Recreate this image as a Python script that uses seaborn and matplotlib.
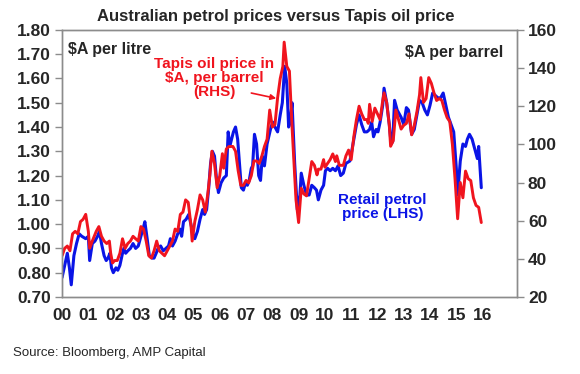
import numpy as np
import pandas as pd
import matplotlib
matplotlib.use("Agg")
import matplotlib.pyplot as plt
import seaborn as sns

# Retail petrol price, $A per litre (LHS)
petrol_t = [2000.00, 2000.12, 2000.20, 2000.28, 2000.35, 2000.45, 2000.55, 2000.65, 2000.75, 2000.90,
            2001.00, 2001.05, 2001.15, 2001.25, 2001.35, 2001.42, 2001.50, 2001.60, 2001.68, 2001.75,
            2001.82, 2001.88, 2001.95, 2002.05, 2002.12, 2002.20, 2002.30, 2002.35, 2002.42, 2002.50,
            2002.60, 2002.70, 2002.80, 2002.90, 2003.00, 2003.08, 2003.15, 2003.25, 2003.32, 2003.42,
            2003.50, 2003.58, 2003.65, 2003.75, 2003.85, 2003.95, 2004.05, 2004.12, 2004.20, 2004.30,
            2004.40, 2004.48, 2004.55, 2004.62, 2004.72, 2004.82, 2004.90, 2004.98, 2005.05, 2005.15,
            2005.25, 2005.35, 2005.42, 2005.50, 2005.58, 2005.65, 2005.72, 2005.80, 2005.88, 2005.95,
            2006.05, 2006.15, 2006.25, 2006.32, 2006.38, 2006.45, 2006.52, 2006.60, 2006.68, 2006.75,
            2006.82, 2006.90, 2006.98, 2007.05, 2007.12, 2007.20, 2007.25, 2007.32, 2007.40, 2007.48,
            2007.55, 2007.62, 2007.70, 2007.80, 2007.95, 2008.02, 2008.10, 2008.20, 2008.30, 2008.38,
            2008.47, 2008.55, 2008.62, 2008.68, 2008.75, 2008.85, 2008.95, 2009.05, 2009.10, 2009.20,
            2009.30, 2009.40, 2009.50, 2009.60, 2009.68, 2009.75, 2009.85, 2009.95, 2010.02, 2010.10,
            2010.20, 2010.30, 2010.40, 2010.50, 2010.60, 2010.70, 2010.80, 2010.95, 2011.02, 2011.10,
            2011.20, 2011.30, 2011.40, 2011.50, 2011.60, 2011.70, 2011.78, 2011.85, 2011.95, 2012.02,
            2012.10, 2012.20, 2012.25, 2012.35, 2012.45, 2012.52, 2012.58, 2012.65, 2012.75, 2012.90,
            2013.00, 2013.10, 2013.18, 2013.30, 2013.40, 2013.50, 2013.60, 2013.70, 2013.80, 2013.90,
            2014.00, 2014.10, 2014.20, 2014.30, 2014.40, 2014.50, 2014.60, 2014.70, 2014.80, 2014.90,
            2015.00, 2015.05, 2015.15, 2015.25, 2015.35, 2015.42, 2015.50, 2015.60, 2015.70, 2015.80,
            2015.85, 2015.95]
petrol = [0.78, 0.84, 0.88, 0.82, 0.75, 0.87, 0.92, 0.96, 0.95, 0.94,
          0.95, 0.85, 0.92, 0.93, 0.95, 0.97, 0.92, 0.87, 0.85, 0.86,
          0.88, 0.82, 0.80, 0.82, 0.81, 0.83, 0.88, 0.90, 0.88, 0.89,
          0.90, 0.92, 0.90, 0.91, 0.95, 0.98, 1.01, 0.93, 0.87, 0.86,
          0.86, 0.88, 0.90, 0.91, 0.89, 0.90, 0.91, 0.94, 0.91, 0.93,
          0.96, 0.98, 0.95, 1.01, 1.02, 1.04, 1.00, 0.96, 0.94, 0.97,
          1.02, 1.06, 1.04, 1.06, 1.15, 1.25, 1.30, 1.28, 1.18, 1.13,
          1.17, 1.19, 1.20, 1.38, 1.32, 1.35, 1.38, 1.40, 1.35, 1.25,
          1.15, 1.14, 1.17, 1.16, 1.18, 1.23, 1.24, 1.37, 1.33, 1.20,
          1.18, 1.28, 1.24, 1.33, 1.40, 1.42, 1.40, 1.38, 1.45, 1.50,
          1.65, 1.58, 1.40, 1.42, 1.50, 1.25, 1.06, 1.12, 1.21, 1.16,
          1.12, 1.12, 1.16, 1.15, 1.14, 1.10, 1.14, 1.16, 1.22, 1.23,
          1.22, 1.23, 1.22, 1.24, 1.20, 1.21, 1.25, 1.26, 1.30, 1.35,
          1.41, 1.45, 1.41, 1.38, 1.38, 1.39, 1.42, 1.36, 1.39, 1.38,
          1.42, 1.49, 1.56, 1.50, 1.41, 1.33, 1.34, 1.51, 1.47, 1.44,
          1.41, 1.48, 1.47, 1.37, 1.39, 1.45, 1.51, 1.50, 1.47, 1.45,
          1.49, 1.54, 1.53, 1.52, 1.52, 1.54, 1.49, 1.44, 1.41, 1.38,
          1.23, 1.12, 1.26, 1.33, 1.32, 1.35, 1.37, 1.35, 1.31, 1.27,
          1.32, 1.15]

# Tapis oil price, $A per barrel (RHS)
tapis_t = [2000.00, 2000.10, 2000.20, 2000.30, 2000.40, 2000.50, 2000.60, 2000.70, 2000.80, 2000.90,
           2001.00, 2001.05, 2001.15, 2001.30, 2001.40, 2001.50, 2001.60, 2001.70, 2001.80, 2001.85,
           2001.92, 2002.00, 2002.10, 2002.20, 2002.30, 2002.40, 2002.50, 2002.60, 2002.70, 2002.80,
           2002.90, 2003.00, 2003.10, 2003.20, 2003.30, 2003.40, 2003.50, 2003.60, 2003.70, 2003.80,
           2003.90, 2004.00, 2004.10, 2004.20, 2004.30, 2004.40, 2004.50, 2004.60, 2004.70, 2004.80,
           2004.90, 2004.95, 2005.05, 2005.15, 2005.25, 2005.35, 2005.45, 2005.55, 2005.62, 2005.70,
           2005.80, 2005.90, 2006.00, 2006.10, 2006.15, 2006.25, 2006.35, 2006.50, 2006.60, 2006.70,
           2006.80, 2006.90, 2007.00, 2007.10, 2007.20, 2007.30, 2007.40, 2007.50, 2007.60, 2007.70,
           2007.80, 2007.90, 2008.00, 2008.10, 2008.20, 2008.30, 2008.40, 2008.45, 2008.55, 2008.65,
           2008.75, 2008.90, 2009.00, 2009.10, 2009.20, 2009.30, 2009.40, 2009.50, 2009.60, 2009.70,
           2009.75, 2009.85, 2009.95, 2010.00, 2010.10, 2010.20, 2010.30, 2010.40, 2010.45, 2010.55,
           2010.70, 2010.80, 2010.90, 2011.00, 2011.10, 2011.20, 2011.30, 2011.40, 2011.50, 2011.60,
           2011.65, 2011.70, 2011.80, 2011.90, 2012.00, 2012.10, 2012.20, 2012.25, 2012.35, 2012.45,
           2012.50, 2012.60, 2012.70, 2012.80, 2012.90, 2013.00, 2013.10, 2013.20, 2013.30, 2013.40,
           2013.50, 2013.60, 2013.65, 2013.75, 2013.85, 2013.95, 2014.05, 2014.15, 2014.25, 2014.35,
           2014.45, 2014.55, 2014.65, 2014.75, 2014.85, 2014.95, 2015.05, 2015.15, 2015.25, 2015.35,
           2015.45, 2015.55, 2015.65, 2015.75, 2015.85, 2015.95]
tapis = [41.6, 45.5, 46.7, 44.2, 53.1, 54.4, 53.1, 59.5, 60.7, 63.3,
         54.4, 45.5, 49.3, 54.4, 56.9, 51.8, 49.3, 48.0, 49.3, 42.9,
         37.8, 39.1, 39.1, 42.9, 50.5, 45.5, 48.0, 49.3, 51.8, 50.5,
         49.3, 56.9, 55.6, 49.3, 41.6, 40.4, 44.2, 49.3, 44.2, 42.9,
         41.6, 44.2, 46.7, 49.3, 55.6, 54.4, 63.3, 64.5, 70.9, 69.6,
         58.2, 49.3, 59.5, 65.8, 73.5, 70.9, 64.5, 74.7, 83.6, 96.4,
         90.0, 77.3, 83.6, 95.1, 87.5, 97.6, 98.9, 98.9, 96.4, 86.2,
         78.5, 78.5, 81.1, 79.8, 83.6, 91.3, 91.3, 90.0, 93.8, 98.9,
         102.7, 118.0, 109.1, 110.4, 124.4, 134.5, 140.9, 153.6, 140.9, 138.4,
         109.1, 70.9, 59.0, 77.0, 74.0, 73.0, 82.0, 91.0, 89.0, 84.0,
         87.0, 87.0, 92.0, 88.0, 90.0, 92.0, 95.0, 91.0, 94.0, 89.0,
         89.0, 94.0, 97.0, 92.0, 104.0, 113.0, 120.0, 116.0, 113.0, 113.0,
         111.0, 121.0, 112.0, 119.0, 116.0, 113.0, 123.0, 127.0, 122.0, 110.0,
         99.0, 102.0, 118.0, 113.0, 108.0, 110.0, 111.0, 116.0, 105.0, 110.0,
         117.0, 126.0, 135.0, 122.0, 124.0, 135.0, 132.0, 127.0, 123.0, 124.0,
         123.0, 118.0, 114.0, 112.0, 100.0, 82.0, 61.0, 80.0, 72.0, 86.0,
         82.0, 81.0, 72.0, 68.0, 67.0, 59.0]

year_ticks = list(range(2000, 2018))
year_labels = ["00", "01", "02", "03", "04", "05", "06", "07", "08",
               "09", "10", "11", "12", "13", "14", "15", "16", ""]
lhs_ticks = [0.70, 0.80, 0.90, 1.00, 1.10, 1.20, 1.30, 1.40, 1.50, 1.60, 1.70, 1.80]
rhs_ticks = [20, 40, 60, 80, 100, 120, 140, 160]

sns.set_style("white")
plt.rcParams["font.family"] = ["Liberation Sans", "DejaVu Sans"]

blue = "#0a14e6"
red = "#f0141e"
grey = "#8c8c8c"

fig = plt.figure(figsize=(5.8, 3.74), dpi=100)
ax = fig.add_axes([0.107, 0.206, 0.784, 0.714])
ax2 = ax.twinx()

df_p = pd.DataFrame({"t": petrol_t, "v": petrol})
df_o = pd.DataFrame({"t": tapis_t, "v": tapis})
sns.lineplot(data=df_p, x="t", y="v", ax=ax, color=blue, linewidth=2.2)
sns.lineplot(data=df_o, x="t", y="v", ax=ax2, color=red, linewidth=2.1)

ax.set_xlim(2000, 2017.3)
ax.set_ylim(0.70, 1.80)
ax2.set_ylim(20, 160)
ax.set_xticks(year_ticks)
ax.set_xticklabels(year_labels)
ax.set_yticks(lhs_ticks)
ax.set_yticklabels([f"{v:.2f}" for v in lhs_ticks])
ax2.set_yticks(rhs_ticks)
ax.set_xlabel("")
ax.set_ylabel("")
ax2.set_ylabel("")

for a in (ax, ax2):
    for s in a.spines.values():
        s.set_color(grey)
        s.set_linewidth(1.0)
ax.tick_params(axis="both", direction="out", length=5, width=1, color=grey,
               labelsize=12.5, pad=3)
ax2.tick_params(axis="y", direction="out", length=5, width=1, color=grey,
                labelsize=12.5, pad=3)
for lab in ax.get_xticklabels() + ax.get_yticklabels() + ax2.get_yticklabels():
    lab.set_fontweight("bold")

fig.text(0.475, 0.955, "Australian petrol prices versus Tapis oil price",
         ha="center", va="center", fontsize=12, fontweight="bold")
ax.text(0.012, 0.955, "$A per litre", transform=ax.transAxes, ha="left", va="top",
        fontsize=11.5, fontweight="bold")
ax.text(0.97, 0.945, "$A per barrel", transform=ax.transAxes, ha="right", va="top",
        fontsize=11.5, fontweight="bold")
ax.text(2005.8, 1.60, "Tapis oil price in\n$A, per barrel\n(RHS)", ha="center", va="center",
        color=red, fontsize=11, fontweight="bold", linespacing=1.0)
ax.annotate("", xy=(2008.15, 1.518), xytext=(2007.2, 1.54),
            arrowprops=dict(arrowstyle="-|>", color=red, lw=1.2, mutation_scale=8,
                            shrinkA=0, shrinkB=0))
ax.text(2012.2, 1.07, "Retail petrol\nprice (LHS)", ha="center", va="center", color=blue,
        fontsize=11, fontweight="bold", linespacing=1.0)
fig.text(0.022, 0.055, "Source: Bloomberg, AMP Capital", ha="left", va="center",
         fontsize=9.5)

fig.savefig("out.png", dpi=100)
